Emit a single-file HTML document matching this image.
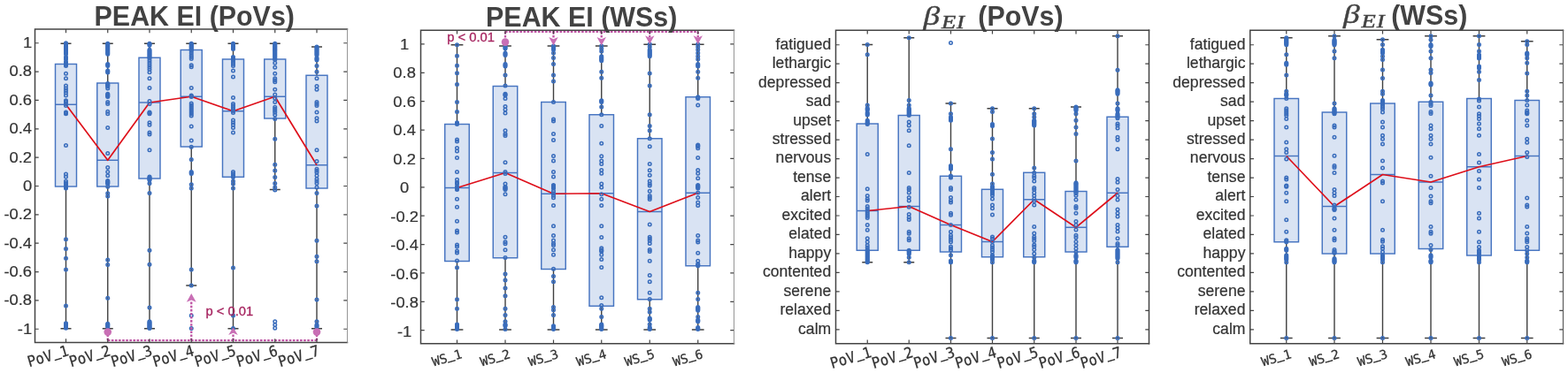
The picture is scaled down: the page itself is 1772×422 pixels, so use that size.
<!DOCTYPE html>
<html lang="en"><head><meta charset="utf-8"><title>PEAK EI and beta EI box plots</title>
<style>
html,body{margin:0;padding:0;background:#fff;}
body{width:1772px;height:422px;overflow:hidden;}
svg{display:block;}
.ax{fill:none;stroke:#444444;stroke-width:1.5;stroke-linecap:square;}
.tk{stroke:#444444;stroke-width:1.2;fill:none;}
.wh{stroke:#404040;stroke-width:1.4;fill:none;}
.bx{fill:#d9e3f3;stroke:#4674c1;stroke-width:1.45;}
.md{stroke:#4674c1;stroke-width:1.45;fill:none;}
.dt{fill:none;stroke:#3a6dbc;stroke-width:1.55;}
.dw{fill:#3a6dbc;fill-opacity:0.35;}
.rl{fill:none;stroke:#de0f1a;stroke-width:1.7;stroke-linejoin:round;}
.mg{fill:none;stroke:#bf55a5;stroke-width:2.3;stroke-dasharray:2.6 1.5;}
.mf{fill:#c96fb5;stroke:none;}
.yl{font-family:"Liberation Sans",Arial,Helvetica,sans-serif;fill:#333333;stroke:#333333;stroke-width:0.2;text-anchor:end;}
.xl{font-family:"DejaVu Sans Mono","Liberation Mono",monospace;fill:#333333;text-anchor:end;}
.xl{stroke:#333333;stroke-width:0.25;}.us{stroke-width:0.7;}
.tt{font-family:"Liberation Sans",Arial,Helvetica,sans-serif;font-weight:bold;font-size:32px;fill:#424242;}
.tb{font-family:"Liberation Serif","DejaVu Serif",serif;font-style:italic;fill:#424242;stroke:#424242;stroke-width:0.35;}
.pv{font-family:"Liberation Sans",Arial,Helvetica,sans-serif;font-size:14.2px;fill:#a6245f;stroke:#a6245f;stroke-width:0.3;}
</style></head><body>
<svg width="1772" height="422" viewBox="0 0 1772 422">
<rect width="1772" height="422" fill="#fff"/>
<g id="panel1">
<path class="wh" d="M74.5 49.2V72.5M74.5 211V371.7M68.5 49.2H80.5M68.5 371.7H80.5"/>
<path class="wh" d="M121.75 49.2V94M121.75 211V371.7M115.75 49.2H127.75M115.75 371.7H127.75"/>
<path class="wh" d="M169 49.2V65.25M169 202V371.7M163 49.2H175M163 371.7H175"/>
<path class="wh" d="M216.25 49.2V56.5M216.25 166V323M210.25 49.2H222.25M210.25 323H222.25"/>
<path class="wh" d="M263.5 49.2V67M263.5 200.25V371.7M257.5 49.2H269.5M257.5 371.7H269.5"/>
<path class="wh" d="M310.75 49.2V67M310.75 134V214.5M304.75 49.2H316.75M304.75 214.5H316.75"/>
<path class="wh" d="M358 53V85.25M358 213V371.7M352 53H364M352 371.7H364"/>
<rect class="bx" x="62.5" y="72.5" width="24" height="138.5"/>
<path class="md" d="M62.5 118.25H86.5"/>
<rect class="bx" x="109.75" y="94" width="24" height="117"/>
<path class="md" d="M109.75 181.25H133.75"/>
<rect class="bx" x="157" y="65.25" width="24" height="136.75"/>
<path class="md" d="M157 116H181"/>
<rect class="bx" x="204.25" y="56.5" width="24" height="109.5"/>
<path class="md" d="M204.25 109.25H228.25"/>
<rect class="bx" x="251.5" y="67" width="24" height="133.25"/>
<path class="md" d="M251.5 125.75H275.5"/>
<rect class="bx" x="298.75" y="67" width="24" height="67"/>
<path class="md" d="M298.75 109.25H322.75"/>
<rect class="bx" x="346" y="85.25" width="24" height="127.75"/>
<path class="md" d="M346 186.75H370"/>
<polyline class="rl" points="74.5,118.25 121.75,181.25 169,116 216.25,109.25 263.5,125.75 310.75,109.25 358,186.75"/>
<g class="dt"><circle cx="74.5" cy="72.5" r="1.75"/><circle cx="74.5" cy="73.5" r="1.75"/><circle cx="74.5" cy="74.5" r="1.75"/><circle cx="74.5" cy="83.25" r="1.75"/><circle cx="74.5" cy="88.75" r="1.75"/><circle cx="74.5" cy="97" r="1.75"/><circle cx="74.5" cy="100" r="1.75"/><circle cx="74.5" cy="102.5" r="1.75"/><circle cx="74.5" cy="105" r="1.75"/><circle cx="74.5" cy="108" r="1.75"/><circle cx="74.5" cy="113.75" r="1.75"/><circle cx="74.5" cy="114.62" r="1.75"/><circle cx="74.5" cy="115.5" r="1.75"/><circle cx="74.5" cy="117.5" r="1.75"/><circle cx="74.5" cy="119.5" r="1.75"/><circle cx="74.5" cy="127" r="1.75"/><circle cx="74.5" cy="127.88" r="1.75"/><circle cx="74.5" cy="128.75" r="1.75"/><circle cx="74.5" cy="164.5" r="1.75"/><circle cx="74.5" cy="197" r="1.75"/><circle cx="74.5" cy="200" r="1.75"/><circle cx="74.5" cy="205" r="1.75"/><circle cx="74.5" cy="207" r="1.75"/><circle cx="74.5" cy="207.88" r="1.75"/><circle cx="74.5" cy="208.75" r="1.75"/><circle cx="74.5" cy="210" r="1.75"/><circle cx="74.5" cy="211.25" r="1.75"/></g>
<g class="dt dw"><circle cx="74.5" cy="48.75" r="1.75"/><circle cx="74.5" cy="49.75" r="1.75"/><circle cx="74.5" cy="50.75" r="1.75"/><circle cx="74.5" cy="51.62" r="1.75"/><circle cx="74.5" cy="52.5" r="1.75"/><circle cx="74.5" cy="53.5" r="1.75"/><circle cx="74.5" cy="54.5" r="1.75"/><circle cx="74.5" cy="55.38" r="1.75"/><circle cx="74.5" cy="56.25" r="1.75"/><circle cx="74.5" cy="57.5" r="1.75"/><circle cx="74.5" cy="58.75" r="1.75"/><circle cx="74.5" cy="60" r="1.75"/><circle cx="74.5" cy="61.25" r="1.75"/><circle cx="74.5" cy="64.5" r="1.75"/><circle cx="74.5" cy="65.75" r="1.75"/><circle cx="74.5" cy="67" r="1.75"/><circle cx="74.5" cy="70" r="1.75"/><circle cx="74.5" cy="71.25" r="1.75"/><circle cx="74.5" cy="212.12" r="1.75"/><circle cx="74.5" cy="213" r="1.75"/><circle cx="74.5" cy="270.75" r="1.75"/><circle cx="74.5" cy="281.5" r="1.75"/><circle cx="74.5" cy="292.25" r="1.75"/><circle cx="74.5" cy="305" r="1.75"/><circle cx="74.5" cy="346" r="1.75"/><circle cx="74.5" cy="365.75" r="1.75"/><circle cx="74.5" cy="366.62" r="1.75"/><circle cx="74.5" cy="367.5" r="1.75"/><circle cx="74.5" cy="368.38" r="1.75"/><circle cx="74.5" cy="369.25" r="1.75"/><circle cx="74.5" cy="370.25" r="1.75"/><circle cx="74.5" cy="371.25" r="1.75"/></g>
<g class="dt"><circle cx="121.75" cy="94.5" r="1.75"/><circle cx="121.75" cy="95.38" r="1.75"/><circle cx="121.75" cy="96.25" r="1.75"/><circle cx="121.75" cy="97.12" r="1.75"/><circle cx="121.75" cy="98" r="1.75"/><circle cx="121.75" cy="100" r="1.75"/><circle cx="121.75" cy="106.25" r="1.75"/><circle cx="121.75" cy="107.12" r="1.75"/><circle cx="121.75" cy="108" r="1.75"/><circle cx="121.75" cy="108.75" r="1.75"/><circle cx="121.75" cy="109.5" r="1.75"/><circle cx="121.75" cy="115.5" r="1.75"/><circle cx="121.75" cy="117.5" r="1.75"/><circle cx="121.75" cy="126.25" r="1.75"/><circle cx="121.75" cy="128.75" r="1.75"/><circle cx="121.75" cy="144.5" r="1.75"/><circle cx="121.75" cy="173.5" r="1.75"/><circle cx="121.75" cy="189.5" r="1.75"/><circle cx="121.75" cy="194.5" r="1.75"/><circle cx="121.75" cy="198.75" r="1.75"/><circle cx="121.75" cy="204.5" r="1.75"/><circle cx="121.75" cy="205.38" r="1.75"/><circle cx="121.75" cy="206.25" r="1.75"/><circle cx="121.75" cy="207.12" r="1.75"/><circle cx="121.75" cy="208" r="1.75"/><circle cx="121.75" cy="211.25" r="1.75"/></g>
<g class="dt dw"><circle cx="121.75" cy="49.25" r="1.75"/><circle cx="121.75" cy="50.25" r="1.75"/><circle cx="121.75" cy="51.25" r="1.75"/><circle cx="121.75" cy="52.5" r="1.75"/><circle cx="121.75" cy="53.75" r="1.75"/><circle cx="121.75" cy="55" r="1.75"/><circle cx="121.75" cy="56.25" r="1.75"/><circle cx="121.75" cy="57.5" r="1.75"/><circle cx="121.75" cy="58.75" r="1.75"/><circle cx="121.75" cy="60" r="1.75"/><circle cx="121.75" cy="61.25" r="1.75"/><circle cx="121.75" cy="72.5" r="1.75"/><circle cx="121.75" cy="73.5" r="1.75"/><circle cx="121.75" cy="74.5" r="1.75"/><circle cx="121.75" cy="80" r="1.75"/><circle cx="121.75" cy="81" r="1.75"/><circle cx="121.75" cy="82" r="1.75"/><circle cx="121.75" cy="218.75" r="1.75"/><circle cx="121.75" cy="222" r="1.75"/><circle cx="121.75" cy="294" r="1.75"/><circle cx="121.75" cy="299.5" r="1.75"/><circle cx="121.75" cy="337.25" r="1.75"/><circle cx="121.75" cy="366.25" r="1.75"/><circle cx="121.75" cy="367.12" r="1.75"/><circle cx="121.75" cy="368" r="1.75"/><circle cx="121.75" cy="369" r="1.75"/><circle cx="121.75" cy="370" r="1.75"/></g>
<g class="dt"><circle cx="169" cy="65" r="1.75"/><circle cx="169" cy="66.25" r="1.75"/><circle cx="169" cy="68.75" r="1.75"/><circle cx="169" cy="71.25" r="1.75"/><circle cx="169" cy="73.75" r="1.75"/><circle cx="169" cy="76.25" r="1.75"/><circle cx="169" cy="78.75" r="1.75"/><circle cx="169" cy="81.75" r="1.75"/><circle cx="169" cy="88.75" r="1.75"/><circle cx="169" cy="99.5" r="1.75"/><circle cx="169" cy="114.5" r="1.75"/><circle cx="169" cy="117.5" r="1.75"/><circle cx="169" cy="127" r="1.75"/><circle cx="169" cy="127.88" r="1.75"/><circle cx="169" cy="128.75" r="1.75"/><circle cx="169" cy="138.75" r="1.75"/><circle cx="169" cy="141.25" r="1.75"/><circle cx="169" cy="150" r="1.75"/><circle cx="169" cy="152" r="1.75"/><circle cx="169" cy="169.75" r="1.75"/><circle cx="169" cy="200" r="1.75"/><circle cx="169" cy="201" r="1.75"/><circle cx="169" cy="202" r="1.75"/></g>
<g class="dt dw"><circle cx="169" cy="49.25" r="1.75"/><circle cx="169" cy="50.25" r="1.75"/><circle cx="169" cy="51.25" r="1.75"/><circle cx="169" cy="56.25" r="1.75"/><circle cx="169" cy="57.5" r="1.75"/><circle cx="169" cy="58.75" r="1.75"/><circle cx="169" cy="60" r="1.75"/><circle cx="169" cy="61.25" r="1.75"/><circle cx="169" cy="62.5" r="1.75"/><circle cx="169" cy="63.75" r="1.75"/><circle cx="169" cy="202.88" r="1.75"/><circle cx="169" cy="203.75" r="1.75"/><circle cx="169" cy="207.5" r="1.75"/><circle cx="169" cy="218.5" r="1.75"/><circle cx="169" cy="283.25" r="1.75"/><circle cx="169" cy="299.25" r="1.75"/><circle cx="169" cy="348" r="1.75"/><circle cx="169" cy="363.75" r="1.75"/><circle cx="169" cy="364.75" r="1.75"/><circle cx="169" cy="365.75" r="1.75"/><circle cx="169" cy="366.75" r="1.75"/><circle cx="169" cy="367.75" r="1.75"/><circle cx="169" cy="368.75" r="1.75"/><circle cx="169" cy="369.75" r="1.75"/><circle cx="169" cy="370.62" r="1.75"/><circle cx="169" cy="371.5" r="1.75"/></g>
<g class="dt"><circle cx="216.25" cy="56.5" r="1.75"/><circle cx="216.25" cy="57.5" r="1.75"/><circle cx="216.25" cy="60" r="1.75"/><circle cx="216.25" cy="62.5" r="1.75"/><circle cx="216.25" cy="64.5" r="1.75"/><circle cx="216.25" cy="66.5" r="1.75"/><circle cx="216.25" cy="73.75" r="1.75"/><circle cx="216.25" cy="75.75" r="1.75"/><circle cx="216.25" cy="99.5" r="1.75"/><circle cx="216.25" cy="108" r="1.75"/><circle cx="216.25" cy="108.75" r="1.75"/><circle cx="216.25" cy="109.5" r="1.75"/><circle cx="216.25" cy="117" r="1.75"/><circle cx="216.25" cy="119" r="1.75"/><circle cx="216.25" cy="121" r="1.75"/><circle cx="216.25" cy="123" r="1.75"/><circle cx="216.25" cy="125" r="1.75"/><circle cx="216.25" cy="127" r="1.75"/><circle cx="216.25" cy="129" r="1.75"/><circle cx="216.25" cy="131" r="1.75"/><circle cx="216.25" cy="143" r="1.75"/><circle cx="216.25" cy="159" r="1.75"/><circle cx="216.25" cy="166.25" r="1.75"/><circle cx="216.25" cy="357" r="1.75"/><circle cx="216.25" cy="371.5" r="1.75"/></g>
<g class="dt dw"><circle cx="216.25" cy="49.25" r="1.75"/><circle cx="216.25" cy="50.25" r="1.75"/><circle cx="216.25" cy="51.25" r="1.75"/><circle cx="216.25" cy="52.25" r="1.75"/><circle cx="216.25" cy="53.25" r="1.75"/><circle cx="216.25" cy="54.38" r="1.75"/><circle cx="216.25" cy="55.5" r="1.75"/><circle cx="216.25" cy="180.5" r="1.75"/><circle cx="216.25" cy="194.5" r="1.75"/><circle cx="216.25" cy="195.5" r="1.75"/><circle cx="216.25" cy="196.5" r="1.75"/><circle cx="216.25" cy="208.75" r="1.75"/><circle cx="216.25" cy="213" r="1.75"/><circle cx="216.25" cy="305" r="1.75"/><circle cx="216.25" cy="323" r="1.75"/></g>
<g class="dt"><circle cx="263.5" cy="66.5" r="1.75"/><circle cx="263.5" cy="67.5" r="1.75"/><circle cx="263.5" cy="68.5" r="1.75"/><circle cx="263.5" cy="70.5" r="1.75"/><circle cx="263.5" cy="72.5" r="1.75"/><circle cx="263.5" cy="74.5" r="1.75"/><circle cx="263.5" cy="80" r="1.75"/><circle cx="263.5" cy="87" r="1.75"/><circle cx="263.5" cy="110.5" r="1.75"/><circle cx="263.5" cy="117.5" r="1.75"/><circle cx="263.5" cy="119.5" r="1.75"/><circle cx="263.5" cy="121.5" r="1.75"/><circle cx="263.5" cy="123.5" r="1.75"/><circle cx="263.5" cy="125.5" r="1.75"/><circle cx="263.5" cy="127.5" r="1.75"/><circle cx="263.5" cy="136" r="1.75"/><circle cx="263.5" cy="138.75" r="1.75"/><circle cx="263.5" cy="141.25" r="1.75"/><circle cx="263.5" cy="144.5" r="1.75"/><circle cx="263.5" cy="150" r="1.75"/><circle cx="263.5" cy="194.5" r="1.75"/><circle cx="263.5" cy="196.5" r="1.75"/><circle cx="263.5" cy="198.5" r="1.75"/><circle cx="263.5" cy="199.5" r="1.75"/><circle cx="263.5" cy="200.5" r="1.75"/></g>
<g class="dt dw"><circle cx="263.5" cy="49.25" r="1.75"/><circle cx="263.5" cy="50.25" r="1.75"/><circle cx="263.5" cy="51.25" r="1.75"/><circle cx="263.5" cy="52.25" r="1.75"/><circle cx="263.5" cy="53.25" r="1.75"/><circle cx="263.5" cy="54.38" r="1.75"/><circle cx="263.5" cy="55.5" r="1.75"/><circle cx="263.5" cy="64.5" r="1.75"/><circle cx="263.5" cy="65.5" r="1.75"/><circle cx="263.5" cy="205" r="1.75"/><circle cx="263.5" cy="208" r="1.75"/><circle cx="263.5" cy="213" r="1.75"/><circle cx="263.5" cy="303" r="1.75"/><circle cx="263.5" cy="357" r="1.75"/><circle cx="263.5" cy="371.5" r="1.75"/></g>
<g class="dt"><circle cx="310.75" cy="67.5" r="1.75"/><circle cx="310.75" cy="71.25" r="1.75"/><circle cx="310.75" cy="76.25" r="1.75"/><circle cx="310.75" cy="83.25" r="1.75"/><circle cx="310.75" cy="88.75" r="1.75"/><circle cx="310.75" cy="90.75" r="1.75"/><circle cx="310.75" cy="92.75" r="1.75"/><circle cx="310.75" cy="101.25" r="1.75"/><circle cx="310.75" cy="107" r="1.75"/><circle cx="310.75" cy="111.25" r="1.75"/><circle cx="310.75" cy="115.5" r="1.75"/><circle cx="310.75" cy="121.25" r="1.75"/><circle cx="310.75" cy="123.25" r="1.75"/><circle cx="310.75" cy="125.25" r="1.75"/><circle cx="310.75" cy="127.25" r="1.75"/><circle cx="310.75" cy="130" r="1.75"/><circle cx="310.75" cy="134.5" r="1.75"/><circle cx="310.75" cy="363.75" r="1.75"/><circle cx="310.75" cy="367.5" r="1.75"/><circle cx="310.75" cy="371.25" r="1.75"/></g>
<g class="dt dw"><circle cx="310.75" cy="49.25" r="1.75"/><circle cx="310.75" cy="50.25" r="1.75"/><circle cx="310.75" cy="51.25" r="1.75"/><circle cx="310.75" cy="52.25" r="1.75"/><circle cx="310.75" cy="53.25" r="1.75"/><circle cx="310.75" cy="54.38" r="1.75"/><circle cx="310.75" cy="55.5" r="1.75"/><circle cx="310.75" cy="56.5" r="1.75"/><circle cx="310.75" cy="57.5" r="1.75"/><circle cx="310.75" cy="58.75" r="1.75"/><circle cx="310.75" cy="60" r="1.75"/><circle cx="310.75" cy="61.25" r="1.75"/><circle cx="310.75" cy="62.5" r="1.75"/><circle cx="310.75" cy="63.75" r="1.75"/><circle cx="310.75" cy="65" r="1.75"/><circle cx="310.75" cy="66.25" r="1.75"/><circle cx="310.75" cy="157.25" r="1.75"/><circle cx="310.75" cy="186.25" r="1.75"/><circle cx="310.75" cy="193" r="1.75"/><circle cx="310.75" cy="200.5" r="1.75"/><circle cx="310.75" cy="207.5" r="1.75"/><circle cx="310.75" cy="212" r="1.75"/><circle cx="310.75" cy="215" r="1.75"/></g>
<g class="dt"><circle cx="358" cy="88.75" r="1.75"/><circle cx="358" cy="97.5" r="1.75"/><circle cx="358" cy="101.25" r="1.75"/><circle cx="358" cy="115.5" r="1.75"/><circle cx="358" cy="117.5" r="1.75"/><circle cx="358" cy="119.5" r="1.75"/><circle cx="358" cy="127" r="1.75"/><circle cx="358" cy="133.75" r="1.75"/><circle cx="358" cy="137" r="1.75"/><circle cx="358" cy="169.75" r="1.75"/><circle cx="358" cy="182.5" r="1.75"/><circle cx="358" cy="191.25" r="1.75"/><circle cx="358" cy="193.25" r="1.75"/><circle cx="358" cy="195.25" r="1.75"/><circle cx="358" cy="198.75" r="1.75"/><circle cx="358" cy="202.5" r="1.75"/><circle cx="358" cy="205" r="1.75"/><circle cx="358" cy="207.5" r="1.75"/><circle cx="358" cy="212" r="1.75"/></g>
<g class="dt dw"><circle cx="358" cy="53" r="1.75"/><circle cx="358" cy="54" r="1.75"/><circle cx="358" cy="55" r="1.75"/><circle cx="358" cy="56.25" r="1.75"/><circle cx="358" cy="57.5" r="1.75"/><circle cx="358" cy="58.75" r="1.75"/><circle cx="358" cy="60" r="1.75"/><circle cx="358" cy="61.25" r="1.75"/><circle cx="358" cy="62.5" r="1.75"/><circle cx="358" cy="65.5" r="1.75"/><circle cx="358" cy="66.75" r="1.75"/><circle cx="358" cy="68" r="1.75"/><circle cx="358" cy="74.5" r="1.75"/><circle cx="358" cy="81.25" r="1.75"/><circle cx="358" cy="218.5" r="1.75"/><circle cx="358" cy="233" r="1.75"/><circle cx="358" cy="272.25" r="1.75"/><circle cx="358" cy="290.25" r="1.75"/><circle cx="358" cy="295.75" r="1.75"/><circle cx="358" cy="339" r="1.75"/><circle cx="358" cy="363.75" r="1.75"/><circle cx="358" cy="367.5" r="1.75"/><circle cx="358" cy="368.75" r="1.75"/><circle cx="358" cy="370" r="1.75"/></g>
<g id="sig1">
<path class="mg" d="M121.75 385.2H358"/>
<path class="mg" d="M121.75 385.2V377M358 385.2V377M216.25 385.2V340M263.5 385.2V378"/>
<circle class="mf" cx="121.75" cy="375.6" r="4.3"/><circle class="mf" cx="358" cy="375.6" r="4.3"/>
<path class="mf" d="M216.25 332l5.4 9.8l-5.4 -2.4l-5.4 2.4z"/>
<path class="mf" d="M263.5 370.4l5.3 8.6l-5.3 -2.2l-5.3 2.2z"/>
<text class="pv" transform="translate(232.5 357.3) scale(1.04 1)">p &lt; 0.01</text>
</g>
<path class="tk" d="M74.5 387.4v-4.2M74.5 33v4.2M121.75 387.4v-4.2M121.75 33v4.2M169 387.4v-4.2M169 33v4.2M216.25 387.4v-4.2M216.25 33v4.2M263.5 387.4v-4.2M263.5 33v4.2M310.75 387.4v-4.2M310.75 33v4.2M358 387.4v-4.2M358 33v4.2M39.5 48.75h4.2M392.5 48.75h-4.2M39.5 81.1h4.2M392.5 81.1h-4.2M39.5 113.45h4.2M392.5 113.45h-4.2M39.5 145.8h4.2M392.5 145.8h-4.2M39.5 178.15h4.2M392.5 178.15h-4.2M39.5 210.5h4.2M392.5 210.5h-4.2M39.5 242.85h4.2M392.5 242.85h-4.2M39.5 275.2h4.2M392.5 275.2h-4.2M39.5 307.55h4.2M392.5 307.55h-4.2M39.5 339.9h4.2M392.5 339.9h-4.2M39.5 372.25h4.2M392.5 372.25h-4.2"/>
<path class="ax" d="M392.5 33H39.5V387.4H392.5"/>
<path class="ax" style="stroke:#8a8a8a;stroke-width:0.9" d="M392.5 33V387.4"/>
<text class="yl" font-size="16.7" transform="translate(36.1 54.1) scale(1.1 1)">1</text>
<text class="yl" font-size="16.7" transform="translate(36.1 86.45) scale(1.1 1)">0.8</text>
<text class="yl" font-size="16.7" transform="translate(36.1 118.8) scale(1.1 1)">0.6</text>
<text class="yl" font-size="16.7" transform="translate(36.1 151.15) scale(1.1 1)">0.4</text>
<text class="yl" font-size="16.7" transform="translate(36.1 183.5) scale(1.1 1)">0.2</text>
<text class="yl" font-size="16.7" transform="translate(36.1 215.85) scale(1.1 1)">0</text>
<text class="yl" font-size="16.7" transform="translate(36.1 248.2) scale(1.1 1)">-0.2</text>
<text class="yl" font-size="16.7" transform="translate(36.1 280.55) scale(1.1 1)">-0.4</text>
<text class="yl" font-size="16.7" transform="translate(36.1 312.9) scale(1.1 1)">-0.6</text>
<text class="yl" font-size="16.7" transform="translate(36.1 345.25) scale(1.1 1)">-0.8</text>
<text class="yl" font-size="16.7" transform="translate(36.1 377.6) scale(1.1 1)">-1</text>
<text class="xl" font-size="17" transform="translate(78.6 401.8) rotate(-16.5) scale(0.93 1)">PoV<tspan dy="-2.4" dx="1.71" class="us" font-size="14.3">_</tspan><tspan dy="2.4" dx="-0.09">1</tspan></text>
<text class="xl" font-size="17" transform="translate(125.85 401.8) rotate(-16.5) scale(0.93 1)">PoV<tspan dy="-2.4" dx="1.71" class="us" font-size="14.3">_</tspan><tspan dy="2.4" dx="-0.09">2</tspan></text>
<text class="xl" font-size="17" transform="translate(173.1 401.8) rotate(-16.5) scale(0.93 1)">PoV<tspan dy="-2.4" dx="1.71" class="us" font-size="14.3">_</tspan><tspan dy="2.4" dx="-0.09">3</tspan></text>
<text class="xl" font-size="17" transform="translate(220.35 401.8) rotate(-16.5) scale(0.93 1)">PoV<tspan dy="-2.4" dx="1.71" class="us" font-size="14.3">_</tspan><tspan dy="2.4" dx="-0.09">4</tspan></text>
<text class="xl" font-size="17" transform="translate(267.6 401.8) rotate(-16.5) scale(0.93 1)">PoV<tspan dy="-2.4" dx="1.71" class="us" font-size="14.3">_</tspan><tspan dy="2.4" dx="-0.09">5</tspan></text>
<text class="xl" font-size="17" transform="translate(314.85 401.8) rotate(-16.5) scale(0.93 1)">PoV<tspan dy="-2.4" dx="1.71" class="us" font-size="14.3">_</tspan><tspan dy="2.4" dx="-0.09">6</tspan></text>
<text class="xl" font-size="17" transform="translate(362.1 401.8) rotate(-16.5) scale(0.93 1)">PoV<tspan dy="-2.4" dx="1.71" class="us" font-size="14.3">_</tspan><tspan dy="2.4" dx="-0.09">7</tspan></text>
</g>
<g id="panel2">
<path class="wh" d="M516.5 50.75V140.5M516.5 295.5V373M509.62 50.75H523.38M509.62 373H523.38"/>
<path class="wh" d="M571 52V97.5M571 291.75V373M564.12 52H577.88M564.12 373H577.88"/>
<path class="wh" d="M625.5 52V115.5M625.5 304.5V373M618.62 52H632.38M618.62 373H632.38"/>
<path class="wh" d="M679.75 52V129.75M679.75 346.25V373M672.88 52H686.62M672.88 373H686.62"/>
<path class="wh" d="M734.25 50.3V156.75M734.25 338.75V373M727.38 50.3H741.12M727.38 373H741.12"/>
<path class="wh" d="M788.75 50.3V109.75M788.75 300.75V373M781.88 50.3H795.62M781.88 373H795.62"/>
<rect class="bx" x="502.75" y="140.5" width="27.5" height="155"/>
<path class="md" d="M502.75 212.5H530.25"/>
<rect class="bx" x="557.25" y="97.5" width="27.5" height="194.25"/>
<path class="md" d="M557.25 195.5H584.75"/>
<rect class="bx" x="611.75" y="115.5" width="27.5" height="189"/>
<path class="md" d="M611.75 219.25H639.25"/>
<rect class="bx" x="666" y="129.75" width="27.5" height="216.5"/>
<path class="md" d="M666 218.75H693.5"/>
<rect class="bx" x="720.5" y="156.75" width="27.5" height="182"/>
<path class="md" d="M720.5 239.5H748"/>
<rect class="bx" x="775" y="109.75" width="27.5" height="191"/>
<path class="md" d="M775 218.25H802.5"/>
<polyline class="rl" points="516.5,212.5 571,195.5 625.5,219.25 679.75,218.75 734.25,239.5 788.75,218.25"/>
<g class="dt"><circle cx="516.5" cy="140.5" r="1.75"/><circle cx="516.5" cy="158" r="1.75"/><circle cx="516.5" cy="160" r="1.75"/><circle cx="516.5" cy="167.5" r="1.75"/><circle cx="516.5" cy="171" r="1.75"/><circle cx="516.5" cy="178.5" r="1.75"/><circle cx="516.5" cy="194.5" r="1.75"/><circle cx="516.5" cy="203.25" r="1.75"/><circle cx="516.5" cy="206.25" r="1.75"/><circle cx="516.5" cy="207.12" r="1.75"/><circle cx="516.5" cy="208" r="1.75"/><circle cx="516.5" cy="211.25" r="1.75"/><circle cx="516.5" cy="212.12" r="1.75"/><circle cx="516.5" cy="213" r="1.75"/><circle cx="516.5" cy="213.75" r="1.75"/><circle cx="516.5" cy="214.5" r="1.75"/><circle cx="516.5" cy="225.25" r="1.75"/><circle cx="516.5" cy="234.25" r="1.75"/><circle cx="516.5" cy="250.25" r="1.75"/><circle cx="516.5" cy="261" r="1.75"/><circle cx="516.5" cy="263" r="1.75"/><circle cx="516.5" cy="277" r="1.75"/><circle cx="516.5" cy="279" r="1.75"/><circle cx="516.5" cy="284" r="1.75"/><circle cx="516.5" cy="286" r="1.75"/><circle cx="516.5" cy="295" r="1.75"/></g>
<g class="dt dw"><circle cx="516.5" cy="50.75" r="1.75"/><circle cx="516.5" cy="63.25" r="1.75"/><circle cx="516.5" cy="74.25" r="1.75"/><circle cx="516.5" cy="82.75" r="1.75"/><circle cx="516.5" cy="95.5" r="1.75"/><circle cx="516.5" cy="115.5" r="1.75"/><circle cx="516.5" cy="126.5" r="1.75"/><circle cx="516.5" cy="138.75" r="1.75"/><circle cx="516.5" cy="139.62" r="1.75"/><circle cx="516.5" cy="302.75" r="1.75"/><circle cx="516.5" cy="338.75" r="1.75"/><circle cx="516.5" cy="349.25" r="1.75"/><circle cx="516.5" cy="367" r="1.75"/><circle cx="516.5" cy="367.88" r="1.75"/><circle cx="516.5" cy="368.75" r="1.75"/><circle cx="516.5" cy="369.62" r="1.75"/><circle cx="516.5" cy="370.5" r="1.75"/><circle cx="516.5" cy="371.5" r="1.75"/><circle cx="516.5" cy="372.5" r="1.75"/></g>
<g class="dt"><circle cx="571" cy="97" r="1.75"/><circle cx="571" cy="106.25" r="1.75"/><circle cx="571" cy="107.12" r="1.75"/><circle cx="571" cy="108" r="1.75"/><circle cx="571" cy="111.5" r="1.75"/><circle cx="571" cy="120.5" r="1.75"/><circle cx="571" cy="124" r="1.75"/><circle cx="571" cy="128" r="1.75"/><circle cx="571" cy="147.75" r="1.75"/><circle cx="571" cy="151.5" r="1.75"/><circle cx="571" cy="153.5" r="1.75"/><circle cx="571" cy="183.75" r="1.75"/><circle cx="571" cy="194.5" r="1.75"/><circle cx="571" cy="196.5" r="1.75"/><circle cx="571" cy="208" r="1.75"/><circle cx="571" cy="211.25" r="1.75"/><circle cx="571" cy="212.12" r="1.75"/><circle cx="571" cy="213" r="1.75"/><circle cx="571" cy="213.75" r="1.75"/><circle cx="571" cy="214.5" r="1.75"/><circle cx="571" cy="219.75" r="1.75"/><circle cx="571" cy="268.25" r="1.75"/><circle cx="571" cy="273.75" r="1.75"/><circle cx="571" cy="275.75" r="1.75"/><circle cx="571" cy="282.75" r="1.75"/><circle cx="571" cy="291.5" r="1.75"/></g>
<g class="dt dw"><circle cx="571" cy="53" r="1.75"/><circle cx="571" cy="54" r="1.75"/><circle cx="571" cy="55" r="1.75"/><circle cx="571" cy="60" r="1.75"/><circle cx="571" cy="61.25" r="1.75"/><circle cx="571" cy="62.5" r="1.75"/><circle cx="571" cy="72.5" r="1.75"/><circle cx="571" cy="73.75" r="1.75"/><circle cx="571" cy="75" r="1.75"/><circle cx="571" cy="85" r="1.75"/><circle cx="571" cy="310" r="1.75"/><circle cx="571" cy="317" r="1.75"/><circle cx="571" cy="326" r="1.75"/><circle cx="571" cy="334.75" r="1.75"/><circle cx="571" cy="349.25" r="1.75"/><circle cx="571" cy="356.5" r="1.75"/><circle cx="571" cy="363.75" r="1.75"/><circle cx="571" cy="367" r="1.75"/><circle cx="571" cy="367.88" r="1.75"/><circle cx="571" cy="368.75" r="1.75"/><circle cx="571" cy="372.5" r="1.75"/></g>
<g class="dt"><circle cx="625.5" cy="115.5" r="1.75"/><circle cx="625.5" cy="135" r="1.75"/><circle cx="625.5" cy="137" r="1.75"/><circle cx="625.5" cy="151.5" r="1.75"/><circle cx="625.5" cy="158.5" r="1.75"/><circle cx="625.5" cy="176.5" r="1.75"/><circle cx="625.5" cy="182" r="1.75"/><circle cx="625.5" cy="194.5" r="1.75"/><circle cx="625.5" cy="200" r="1.75"/><circle cx="625.5" cy="209.5" r="1.75"/><circle cx="625.5" cy="210.38" r="1.75"/><circle cx="625.5" cy="211.25" r="1.75"/><circle cx="625.5" cy="212.12" r="1.75"/><circle cx="625.5" cy="213" r="1.75"/><circle cx="625.5" cy="216.25" r="1.75"/><circle cx="625.5" cy="218.75" r="1.75"/><circle cx="625.5" cy="221.25" r="1.75"/><circle cx="625.5" cy="223.75" r="1.75"/><circle cx="625.5" cy="232.5" r="1.75"/><circle cx="625.5" cy="255.75" r="1.75"/><circle cx="625.5" cy="266.5" r="1.75"/><circle cx="625.5" cy="272" r="1.75"/><circle cx="625.5" cy="275.5" r="1.75"/><circle cx="625.5" cy="277.5" r="1.75"/><circle cx="625.5" cy="282.75" r="1.75"/><circle cx="625.5" cy="288.25" r="1.75"/><circle cx="625.5" cy="304.25" r="1.75"/></g>
<g class="dt dw"><circle cx="625.5" cy="52" r="1.75"/><circle cx="625.5" cy="52.88" r="1.75"/><circle cx="625.5" cy="53.75" r="1.75"/><circle cx="625.5" cy="55" r="1.75"/><circle cx="625.5" cy="56.25" r="1.75"/><circle cx="625.5" cy="60" r="1.75"/><circle cx="625.5" cy="65.5" r="1.75"/><circle cx="625.5" cy="72.5" r="1.75"/><circle cx="625.5" cy="85" r="1.75"/><circle cx="625.5" cy="92" r="1.75"/><circle cx="625.5" cy="312.5" r="1.75"/><circle cx="625.5" cy="318.75" r="1.75"/><circle cx="625.5" cy="347.5" r="1.75"/><circle cx="625.5" cy="350.75" r="1.75"/><circle cx="625.5" cy="356.5" r="1.75"/><circle cx="625.5" cy="368.75" r="1.75"/><circle cx="625.5" cy="369.62" r="1.75"/><circle cx="625.5" cy="370.5" r="1.75"/><circle cx="625.5" cy="371.5" r="1.75"/><circle cx="625.5" cy="372.5" r="1.75"/></g>
<g class="dt"><circle cx="679.75" cy="129.75" r="1.75"/><circle cx="679.75" cy="142.5" r="1.75"/><circle cx="679.75" cy="162.25" r="1.75"/><circle cx="679.75" cy="176.75" r="1.75"/><circle cx="679.75" cy="182" r="1.75"/><circle cx="679.75" cy="185.5" r="1.75"/><circle cx="679.75" cy="192.5" r="1.75"/><circle cx="679.75" cy="196.25" r="1.75"/><circle cx="679.75" cy="208" r="1.75"/><circle cx="679.75" cy="212" r="1.75"/><circle cx="679.75" cy="219.75" r="1.75"/><circle cx="679.75" cy="225.25" r="1.75"/><circle cx="679.75" cy="232.5" r="1.75"/><circle cx="679.75" cy="255.75" r="1.75"/><circle cx="679.75" cy="268.5" r="1.75"/><circle cx="679.75" cy="280.75" r="1.75"/><circle cx="679.75" cy="282.75" r="1.75"/><circle cx="679.75" cy="283.62" r="1.75"/><circle cx="679.75" cy="284.5" r="1.75"/><circle cx="679.75" cy="288.25" r="1.75"/><circle cx="679.75" cy="293.5" r="1.75"/><circle cx="679.75" cy="302.5" r="1.75"/><circle cx="679.75" cy="336.75" r="1.75"/><circle cx="679.75" cy="345.5" r="1.75"/></g>
<g class="dt dw"><circle cx="679.75" cy="52" r="1.75"/><circle cx="679.75" cy="55" r="1.75"/><circle cx="679.75" cy="58" r="1.75"/><circle cx="679.75" cy="63.75" r="1.75"/><circle cx="679.75" cy="65" r="1.75"/><circle cx="679.75" cy="66.25" r="1.75"/><circle cx="679.75" cy="67.5" r="1.75"/><circle cx="679.75" cy="68.75" r="1.75"/><circle cx="679.75" cy="81.25" r="1.75"/><circle cx="679.75" cy="88.25" r="1.75"/><circle cx="679.75" cy="113.75" r="1.75"/><circle cx="679.75" cy="114.62" r="1.75"/><circle cx="679.75" cy="115.5" r="1.75"/><circle cx="679.75" cy="121" r="1.75"/><circle cx="679.75" cy="349.25" r="1.75"/><circle cx="679.75" cy="358.5" r="1.75"/><circle cx="679.75" cy="367" r="1.75"/><circle cx="679.75" cy="367.88" r="1.75"/><circle cx="679.75" cy="368.75" r="1.75"/><circle cx="679.75" cy="369.62" r="1.75"/><circle cx="679.75" cy="370.5" r="1.75"/><circle cx="679.75" cy="371.5" r="1.75"/><circle cx="679.75" cy="372.5" r="1.75"/></g>
<g class="dt"><circle cx="734.25" cy="156.75" r="1.75"/><circle cx="734.25" cy="165.75" r="1.75"/><circle cx="734.25" cy="185.5" r="1.75"/><circle cx="734.25" cy="192.75" r="1.75"/><circle cx="734.25" cy="198.25" r="1.75"/><circle cx="734.25" cy="205" r="1.75"/><circle cx="734.25" cy="208" r="1.75"/><circle cx="734.25" cy="210" r="1.75"/><circle cx="734.25" cy="216.25" r="1.75"/><circle cx="734.25" cy="221.5" r="1.75"/><circle cx="734.25" cy="223.5" r="1.75"/><circle cx="734.25" cy="225.5" r="1.75"/><circle cx="734.25" cy="254" r="1.75"/><circle cx="734.25" cy="268.25" r="1.75"/><circle cx="734.25" cy="270.25" r="1.75"/><circle cx="734.25" cy="272.25" r="1.75"/><circle cx="734.25" cy="275.5" r="1.75"/><circle cx="734.25" cy="282.5" r="1.75"/><circle cx="734.25" cy="284.5" r="1.75"/><circle cx="734.25" cy="295.25" r="1.75"/><circle cx="734.25" cy="311.5" r="1.75"/><circle cx="734.25" cy="318.75" r="1.75"/><circle cx="734.25" cy="331.25" r="1.75"/><circle cx="734.25" cy="338.5" r="1.75"/></g>
<g class="dt dw"><circle cx="734.25" cy="50" r="1.75"/><circle cx="734.25" cy="53" r="1.75"/><circle cx="734.25" cy="56.25" r="1.75"/><circle cx="734.25" cy="57.5" r="1.75"/><circle cx="734.25" cy="58.75" r="1.75"/><circle cx="734.25" cy="60" r="1.75"/><circle cx="734.25" cy="61.25" r="1.75"/><circle cx="734.25" cy="62.5" r="1.75"/><circle cx="734.25" cy="63.75" r="1.75"/><circle cx="734.25" cy="83" r="1.75"/><circle cx="734.25" cy="97" r="1.75"/><circle cx="734.25" cy="129.75" r="1.75"/><circle cx="734.25" cy="142.5" r="1.75"/><circle cx="734.25" cy="147.75" r="1.75"/><circle cx="734.25" cy="349.25" r="1.75"/><circle cx="734.25" cy="353" r="1.75"/><circle cx="734.25" cy="360" r="1.75"/><circle cx="734.25" cy="361" r="1.75"/><circle cx="734.25" cy="362" r="1.75"/><circle cx="734.25" cy="367" r="1.75"/><circle cx="734.25" cy="370.5" r="1.75"/><circle cx="734.25" cy="371.5" r="1.75"/><circle cx="734.25" cy="372.5" r="1.75"/></g>
<g class="dt"><circle cx="788.75" cy="109.75" r="1.75"/><circle cx="788.75" cy="110.62" r="1.75"/><circle cx="788.75" cy="111.5" r="1.75"/><circle cx="788.75" cy="119" r="1.75"/><circle cx="788.75" cy="164" r="1.75"/><circle cx="788.75" cy="164.88" r="1.75"/><circle cx="788.75" cy="165.75" r="1.75"/><circle cx="788.75" cy="167.75" r="1.75"/><circle cx="788.75" cy="178.5" r="1.75"/><circle cx="788.75" cy="192.5" r="1.75"/><circle cx="788.75" cy="196.25" r="1.75"/><circle cx="788.75" cy="201.75" r="1.75"/><circle cx="788.75" cy="209.5" r="1.75"/><circle cx="788.75" cy="210.38" r="1.75"/><circle cx="788.75" cy="211.25" r="1.75"/><circle cx="788.75" cy="212.12" r="1.75"/><circle cx="788.75" cy="213" r="1.75"/><circle cx="788.75" cy="218" r="1.75"/><circle cx="788.75" cy="223.5" r="1.75"/><circle cx="788.75" cy="229" r="1.75"/><circle cx="788.75" cy="232.5" r="1.75"/><circle cx="788.75" cy="266.5" r="1.75"/><circle cx="788.75" cy="272" r="1.75"/><circle cx="788.75" cy="274" r="1.75"/><circle cx="788.75" cy="286.25" r="1.75"/><circle cx="788.75" cy="295.25" r="1.75"/><circle cx="788.75" cy="298.75" r="1.75"/><circle cx="788.75" cy="299.75" r="1.75"/><circle cx="788.75" cy="300.75" r="1.75"/></g>
<g class="dt dw"><circle cx="788.75" cy="50" r="1.75"/><circle cx="788.75" cy="53" r="1.75"/><circle cx="788.75" cy="56.25" r="1.75"/><circle cx="788.75" cy="60" r="1.75"/><circle cx="788.75" cy="63.75" r="1.75"/><circle cx="788.75" cy="67" r="1.75"/><circle cx="788.75" cy="72.5" r="1.75"/><circle cx="788.75" cy="73.75" r="1.75"/><circle cx="788.75" cy="75" r="1.75"/><circle cx="788.75" cy="81.25" r="1.75"/><circle cx="788.75" cy="88.25" r="1.75"/><circle cx="788.75" cy="331.25" r="1.75"/><circle cx="788.75" cy="338.5" r="1.75"/><circle cx="788.75" cy="347.5" r="1.75"/><circle cx="788.75" cy="348.38" r="1.75"/><circle cx="788.75" cy="349.25" r="1.75"/><circle cx="788.75" cy="350.25" r="1.75"/><circle cx="788.75" cy="351.25" r="1.75"/><circle cx="788.75" cy="358.5" r="1.75"/><circle cx="788.75" cy="362" r="1.75"/><circle cx="788.75" cy="362.88" r="1.75"/><circle cx="788.75" cy="363.75" r="1.75"/><circle cx="788.75" cy="370.5" r="1.75"/><circle cx="788.75" cy="371.5" r="1.75"/><circle cx="788.75" cy="372.5" r="1.75"/></g>
<g id="sig2">
<path class="mg" d="M571 35.8H788.75"/>
<path class="mg" d="M571 35.8V44M625.5 35.8V44M679.75 35.8V44M734.25 35.8V44M788.75 35.8V44"/>
<circle class="mf" cx="571" cy="47.6" r="4.3"/>
<path class="mf" d="M625.5 51.5l-5.2 -9.6l5.2 2.4l5.2 -2.4z"/>
<path class="mf" d="M679.75 51.5l-5.2 -9.6l5.2 2.4l5.2 -2.4z"/>
<path class="mf" d="M734.25 49.9l-5.2 -9.6l5.2 2.4l5.2 -2.4z"/>
<path class="mf" d="M788.75 49.9l-5.2 -9.6l5.2 2.4l5.2 -2.4z"/>
<text class="pv" transform="translate(505.3 47.3) scale(1.04 1)">p &lt; 0.01</text>
</g>
<path class="tk" d="M516.5 388.7v-4.2M516.5 34.3v4.2M571 388.7v-4.2M571 34.3v4.2M625.5 388.7v-4.2M625.5 34.3v4.2M679.75 388.7v-4.2M679.75 34.3v4.2M734.25 388.7v-4.2M734.25 34.3v4.2M788.75 388.7v-4.2M788.75 34.3v4.2M475.5 49.9h4.2M829.5 49.9h-4.2M475.5 82.28h4.2M829.5 82.28h-4.2M475.5 114.66h4.2M829.5 114.66h-4.2M475.5 147.04h4.2M829.5 147.04h-4.2M475.5 179.42h4.2M829.5 179.42h-4.2M475.5 211.8h4.2M829.5 211.8h-4.2M475.5 244.18h4.2M829.5 244.18h-4.2M475.5 276.56h4.2M829.5 276.56h-4.2M475.5 308.94h4.2M829.5 308.94h-4.2M475.5 341.32h4.2M829.5 341.32h-4.2M475.5 373.7h4.2M829.5 373.7h-4.2"/>
<path class="ax" d="M829.5 34.3H475.5V388.7H829.5"/>
<path class="ax" style="stroke:#8a8a8a;stroke-width:0.9" d="M829.5 34.3V388.7"/>
<text class="yl" style="text-anchor:middle" font-size="16.7" transform="translate(457.1 55.67) scale(1.1 1)">1</text>
<text class="yl" style="text-anchor:middle" font-size="16.7" transform="translate(457.1 88.18) scale(1.1 1)">0.8</text>
<text class="yl" style="text-anchor:middle" font-size="16.7" transform="translate(457.1 120.7) scale(1.1 1)">0.6</text>
<text class="yl" style="text-anchor:middle" font-size="16.7" transform="translate(457.1 153.22) scale(1.1 1)">0.4</text>
<text class="yl" style="text-anchor:middle" font-size="16.7" transform="translate(457.1 185.73) scale(1.1 1)">0.2</text>
<text class="yl" style="text-anchor:middle" font-size="16.7" transform="translate(457.1 218.25) scale(1.1 1)">0</text>
<text class="yl" style="text-anchor:middle" font-size="16.7" transform="translate(457.1 250.77) scale(1.1 1)">-0.2</text>
<text class="yl" style="text-anchor:middle" font-size="16.7" transform="translate(457.1 283.29) scale(1.1 1)">-0.4</text>
<text class="yl" style="text-anchor:middle" font-size="16.7" transform="translate(457.1 315.8) scale(1.1 1)">-0.6</text>
<text class="yl" style="text-anchor:middle" font-size="16.7" transform="translate(457.1 348.32) scale(1.1 1)">-0.8</text>
<text class="yl" style="text-anchor:middle" font-size="16.7" transform="translate(457.1 380.84) scale(1.1 1)">-1</text>
<text class="xl" font-size="14.3" transform="translate(522.9 404.7) rotate(-16.5) scale(1 1)">WS<tspan dy="-2.4" dx="0.01" class="us" font-size="13.6">_</tspan><tspan dy="2.4" dx="0.41">1</tspan></text>
<text class="xl" font-size="14.3" transform="translate(577.4 404.7) rotate(-16.5) scale(1 1)">WS<tspan dy="-2.4" dx="0.01" class="us" font-size="13.6">_</tspan><tspan dy="2.4" dx="0.41">2</tspan></text>
<text class="xl" font-size="14.3" transform="translate(631.9 404.7) rotate(-16.5) scale(1 1)">WS<tspan dy="-2.4" dx="0.01" class="us" font-size="13.6">_</tspan><tspan dy="2.4" dx="0.41">3</tspan></text>
<text class="xl" font-size="14.3" transform="translate(686.15 404.7) rotate(-16.5) scale(1 1)">WS<tspan dy="-2.4" dx="0.01" class="us" font-size="13.6">_</tspan><tspan dy="2.4" dx="0.41">4</tspan></text>
<text class="xl" font-size="14.3" transform="translate(740.65 404.7) rotate(-16.5) scale(1 1)">WS<tspan dy="-2.4" dx="0.01" class="us" font-size="13.6">_</tspan><tspan dy="2.4" dx="0.41">5</tspan></text>
<text class="xl" font-size="14.3" transform="translate(795.15 404.7) rotate(-16.5) scale(1 1)">WS<tspan dy="-2.4" dx="0.01" class="us" font-size="13.6">_</tspan><tspan dy="2.4" dx="0.41">6</tspan></text>
</g>
<g id="panel3">
<path class="wh" d="M980.25 50.5V140M980.25 283.25V296.75M974.25 50.5H986.25M974.25 296.75H986.25"/>
<path class="wh" d="M1027.25 42.75V130.5M1027.25 283.25V296.75M1021.25 42.75H1033.25M1021.25 296.75H1033.25"/>
<path class="wh" d="M1074.5 117V199.25M1074.5 285V382.5M1068.5 117H1080.5M1068.5 382.5H1080.5"/>
<path class="wh" d="M1121.5 122.75V214.25M1121.5 290.75V382.5M1115.5 122.75H1127.5M1115.5 382.5H1127.5"/>
<path class="wh" d="M1168.75 122.75V195.25M1168.75 290.75V382.5M1162.75 122.75H1174.75M1162.75 382.5H1174.75"/>
<path class="wh" d="M1216 121V216.5M1216 285V382.5M1210 121H1222M1210 382.5H1222"/>
<path class="wh" d="M1263 40.75V132.25M1263 279.25V382.5M1257 40.75H1269M1257 382.5H1269"/>
<rect class="bx" x="968.25" y="140" width="24" height="143.25"/>
<path class="md" d="M968.25 238.5H992.25"/>
<rect class="bx" x="1015.25" y="130.5" width="24" height="152.75"/>
<path class="md" d="M1015.25 233.5H1039.25"/>
<rect class="bx" x="1062.5" y="199.25" width="24" height="85.75"/>
<path class="md" d="M1062.5 254.5H1086.5"/>
<rect class="bx" x="1109.5" y="214.25" width="24" height="76.5"/>
<path class="md" d="M1109.5 273.5H1133.5"/>
<rect class="bx" x="1156.75" y="195.25" width="24" height="95.5"/>
<path class="md" d="M1156.75 225.75H1180.75"/>
<rect class="bx" x="1204" y="216.5" width="24" height="68.5"/>
<path class="md" d="M1204 257.25H1228"/>
<rect class="bx" x="1251" y="132.25" width="24" height="147"/>
<path class="md" d="M1251 218.25H1275"/>
<polyline class="rl" points="980.25,238.5 1027.25,233.5 1074.5,254.5 1121.5,273.5 1168.75,225.75 1216,257.25 1263,218.25"/>
<g class="dt"><circle cx="980.25" cy="139.62" r="1.75"/><circle cx="980.25" cy="140.5" r="1.75"/><circle cx="980.25" cy="174.5" r="1.75"/><circle cx="980.25" cy="213.75" r="1.75"/><circle cx="980.25" cy="221.5" r="1.75"/><circle cx="980.25" cy="225" r="1.75"/><circle cx="980.25" cy="227" r="1.75"/><circle cx="980.25" cy="233.5" r="1.75"/><circle cx="980.25" cy="236" r="1.75"/><circle cx="980.25" cy="238.5" r="1.75"/><circle cx="980.25" cy="240.5" r="1.75"/><circle cx="980.25" cy="242.5" r="1.75"/><circle cx="980.25" cy="244.5" r="1.75"/><circle cx="980.25" cy="246.5" r="1.75"/><circle cx="980.25" cy="254.5" r="1.75"/><circle cx="980.25" cy="260.25" r="1.75"/><circle cx="980.25" cy="269.75" r="1.75"/><circle cx="980.25" cy="273.75" r="1.75"/><circle cx="980.25" cy="277.5" r="1.75"/><circle cx="980.25" cy="280" r="1.75"/><circle cx="980.25" cy="282.5" r="1.75"/><circle cx="980.25" cy="283.75" r="1.75"/></g>
<g class="dt dw"><circle cx="980.25" cy="50.5" r="1.75"/><circle cx="980.25" cy="61.75" r="1.75"/><circle cx="980.25" cy="119" r="1.75"/><circle cx="980.25" cy="122.5" r="1.75"/><circle cx="980.25" cy="123.5" r="1.75"/><circle cx="980.25" cy="124.5" r="1.75"/><circle cx="980.25" cy="127.5" r="1.75"/><circle cx="980.25" cy="128.75" r="1.75"/><circle cx="980.25" cy="130" r="1.75"/><circle cx="980.25" cy="136.25" r="1.75"/><circle cx="980.25" cy="137.5" r="1.75"/><circle cx="980.25" cy="138.75" r="1.75"/><circle cx="980.25" cy="285" r="1.75"/><circle cx="980.25" cy="286.25" r="1.75"/><circle cx="980.25" cy="287.5" r="1.75"/><circle cx="980.25" cy="288.75" r="1.75"/><circle cx="980.25" cy="290" r="1.75"/><circle cx="980.25" cy="291.25" r="1.75"/><circle cx="980.25" cy="292.5" r="1.75"/><circle cx="980.25" cy="293.75" r="1.75"/><circle cx="980.25" cy="295" r="1.75"/><circle cx="980.25" cy="295.88" r="1.75"/><circle cx="980.25" cy="296.75" r="1.75"/></g>
<g class="dt"><circle cx="1027.25" cy="130.5" r="1.75"/><circle cx="1027.25" cy="138" r="1.75"/><circle cx="1027.25" cy="142" r="1.75"/><circle cx="1027.25" cy="147.75" r="1.75"/><circle cx="1027.25" cy="164.75" r="1.75"/><circle cx="1027.25" cy="195.5" r="1.75"/><circle cx="1027.25" cy="212.5" r="1.75"/><circle cx="1027.25" cy="214.5" r="1.75"/><circle cx="1027.25" cy="218" r="1.75"/><circle cx="1027.25" cy="223.5" r="1.75"/><circle cx="1027.25" cy="227" r="1.75"/><circle cx="1027.25" cy="234.25" r="1.75"/><circle cx="1027.25" cy="242.5" r="1.75"/><circle cx="1027.25" cy="246" r="1.75"/><circle cx="1027.25" cy="248.5" r="1.75"/><circle cx="1027.25" cy="262.25" r="1.75"/><circle cx="1027.25" cy="264.25" r="1.75"/><circle cx="1027.25" cy="269.75" r="1.75"/><circle cx="1027.25" cy="271.75" r="1.75"/><circle cx="1027.25" cy="283.25" r="1.75"/></g>
<g class="dt dw"><circle cx="1027.25" cy="42.75" r="1.75"/><circle cx="1027.25" cy="113.5" r="1.75"/><circle cx="1027.25" cy="119" r="1.75"/><circle cx="1027.25" cy="122.5" r="1.75"/><circle cx="1027.25" cy="123.5" r="1.75"/><circle cx="1027.25" cy="124.5" r="1.75"/><circle cx="1027.25" cy="125.5" r="1.75"/><circle cx="1027.25" cy="126.5" r="1.75"/><circle cx="1027.25" cy="127.5" r="1.75"/><circle cx="1027.25" cy="128.5" r="1.75"/><circle cx="1027.25" cy="129.5" r="1.75"/><circle cx="1027.25" cy="284.12" r="1.75"/><circle cx="1027.25" cy="285" r="1.75"/><circle cx="1027.25" cy="286.25" r="1.75"/><circle cx="1027.25" cy="287.5" r="1.75"/><circle cx="1027.25" cy="291.25" r="1.75"/><circle cx="1027.25" cy="296.75" r="1.75"/></g>
<g class="dt"><circle cx="1074.5" cy="48.5" r="1.75"/><circle cx="1074.5" cy="199" r="1.75"/><circle cx="1074.5" cy="200" r="1.75"/><circle cx="1074.5" cy="201" r="1.75"/><circle cx="1074.5" cy="212.5" r="1.75"/><circle cx="1074.5" cy="214.5" r="1.75"/><circle cx="1074.5" cy="223.5" r="1.75"/><circle cx="1074.5" cy="227" r="1.75"/><circle cx="1074.5" cy="229" r="1.75"/><circle cx="1074.5" cy="241.25" r="1.75"/><circle cx="1074.5" cy="243.25" r="1.75"/><circle cx="1074.5" cy="254.5" r="1.75"/><circle cx="1074.5" cy="262.25" r="1.75"/><circle cx="1074.5" cy="266.25" r="1.75"/><circle cx="1074.5" cy="268.75" r="1.75"/><circle cx="1074.5" cy="271.25" r="1.75"/><circle cx="1074.5" cy="273.75" r="1.75"/><circle cx="1074.5" cy="279" r="1.75"/><circle cx="1074.5" cy="281" r="1.75"/><circle cx="1074.5" cy="283" r="1.75"/></g>
<g class="dt dw"><circle cx="1074.5" cy="117" r="1.75"/><circle cx="1074.5" cy="128.75" r="1.75"/><circle cx="1074.5" cy="132.5" r="1.75"/><circle cx="1074.5" cy="133.5" r="1.75"/><circle cx="1074.5" cy="134.5" r="1.75"/><circle cx="1074.5" cy="135.38" r="1.75"/><circle cx="1074.5" cy="136.25" r="1.75"/><circle cx="1074.5" cy="168.75" r="1.75"/><circle cx="1074.5" cy="187.5" r="1.75"/><circle cx="1074.5" cy="188.5" r="1.75"/><circle cx="1074.5" cy="189.5" r="1.75"/><circle cx="1074.5" cy="190.38" r="1.75"/><circle cx="1074.5" cy="191.25" r="1.75"/><circle cx="1074.5" cy="288.75" r="1.75"/><circle cx="1074.5" cy="295" r="1.75"/><circle cx="1074.5" cy="295.88" r="1.75"/><circle cx="1074.5" cy="296.75" r="1.75"/><circle cx="1074.5" cy="382.5" r="1.75"/></g>
<g class="dt"><circle cx="1121.5" cy="214" r="1.75"/><circle cx="1121.5" cy="215" r="1.75"/><circle cx="1121.5" cy="217" r="1.75"/><circle cx="1121.5" cy="219" r="1.75"/><circle cx="1121.5" cy="221" r="1.75"/><circle cx="1121.5" cy="225" r="1.75"/><circle cx="1121.5" cy="232" r="1.75"/><circle cx="1121.5" cy="235.75" r="1.75"/><circle cx="1121.5" cy="243" r="1.75"/><circle cx="1121.5" cy="268" r="1.75"/><circle cx="1121.5" cy="270" r="1.75"/><circle cx="1121.5" cy="273.5" r="1.75"/><circle cx="1121.5" cy="277.5" r="1.75"/><circle cx="1121.5" cy="280" r="1.75"/><circle cx="1121.5" cy="282.5" r="1.75"/><circle cx="1121.5" cy="285" r="1.75"/><circle cx="1121.5" cy="288.75" r="1.75"/><circle cx="1121.5" cy="290" r="1.75"/><circle cx="1121.5" cy="291.25" r="1.75"/></g>
<g class="dt dw"><circle cx="1121.5" cy="122.75" r="1.75"/><circle cx="1121.5" cy="126.5" r="1.75"/><circle cx="1121.5" cy="140.5" r="1.75"/><circle cx="1121.5" cy="141.5" r="1.75"/><circle cx="1121.5" cy="142.5" r="1.75"/><circle cx="1121.5" cy="157" r="1.75"/><circle cx="1121.5" cy="172.5" r="1.75"/><circle cx="1121.5" cy="180" r="1.75"/><circle cx="1121.5" cy="197.25" r="1.75"/><circle cx="1121.5" cy="208" r="1.75"/><circle cx="1121.5" cy="211.25" r="1.75"/><circle cx="1121.5" cy="212.12" r="1.75"/><circle cx="1121.5" cy="213" r="1.75"/><circle cx="1121.5" cy="292.5" r="1.75"/><circle cx="1121.5" cy="293.75" r="1.75"/><circle cx="1121.5" cy="296.75" r="1.75"/><circle cx="1121.5" cy="382.5" r="1.75"/></g>
<g class="dt"><circle cx="1168.75" cy="195.5" r="1.75"/><circle cx="1168.75" cy="199" r="1.75"/><circle cx="1168.75" cy="201" r="1.75"/><circle cx="1168.75" cy="205" r="1.75"/><circle cx="1168.75" cy="212.5" r="1.75"/><circle cx="1168.75" cy="214.5" r="1.75"/><circle cx="1168.75" cy="218" r="1.75"/><circle cx="1168.75" cy="221.5" r="1.75"/><circle cx="1168.75" cy="225" r="1.75"/><circle cx="1168.75" cy="227.5" r="1.75"/><circle cx="1168.75" cy="232" r="1.75"/><circle cx="1168.75" cy="256.5" r="1.75"/><circle cx="1168.75" cy="264" r="1.75"/><circle cx="1168.75" cy="268" r="1.75"/><circle cx="1168.75" cy="270" r="1.75"/><circle cx="1168.75" cy="272.5" r="1.75"/><circle cx="1168.75" cy="277" r="1.75"/><circle cx="1168.75" cy="279" r="1.75"/><circle cx="1168.75" cy="282.5" r="1.75"/><circle cx="1168.75" cy="287" r="1.75"/><circle cx="1168.75" cy="291.25" r="1.75"/></g>
<g class="dt dw"><circle cx="1168.75" cy="122.75" r="1.75"/><circle cx="1168.75" cy="128.75" r="1.75"/><circle cx="1168.75" cy="132.5" r="1.75"/><circle cx="1168.75" cy="136.25" r="1.75"/><circle cx="1168.75" cy="137.12" r="1.75"/><circle cx="1168.75" cy="138" r="1.75"/><circle cx="1168.75" cy="139" r="1.75"/><circle cx="1168.75" cy="140" r="1.75"/><circle cx="1168.75" cy="141" r="1.75"/><circle cx="1168.75" cy="142" r="1.75"/><circle cx="1168.75" cy="190" r="1.75"/><circle cx="1168.75" cy="295" r="1.75"/><circle cx="1168.75" cy="295.88" r="1.75"/><circle cx="1168.75" cy="296.75" r="1.75"/><circle cx="1168.75" cy="382.5" r="1.75"/></g>
<g class="dt"><circle cx="1216" cy="216.25" r="1.75"/><circle cx="1216" cy="217.5" r="1.75"/><circle cx="1216" cy="218.75" r="1.75"/><circle cx="1216" cy="221.25" r="1.75"/><circle cx="1216" cy="226" r="1.75"/><circle cx="1216" cy="233.5" r="1.75"/><circle cx="1216" cy="235.5" r="1.75"/><circle cx="1216" cy="241.25" r="1.75"/><circle cx="1216" cy="250.5" r="1.75"/><circle cx="1216" cy="254.5" r="1.75"/><circle cx="1216" cy="260" r="1.75"/><circle cx="1216" cy="266.25" r="1.75"/><circle cx="1216" cy="268.75" r="1.75"/><circle cx="1216" cy="273.5" r="1.75"/><circle cx="1216" cy="277.5" r="1.75"/><circle cx="1216" cy="281.25" r="1.75"/><circle cx="1216" cy="285" r="1.75"/></g>
<g class="dt dw"><circle cx="1216" cy="121" r="1.75"/><circle cx="1216" cy="121.88" r="1.75"/><circle cx="1216" cy="122.75" r="1.75"/><circle cx="1216" cy="123.88" r="1.75"/><circle cx="1216" cy="125" r="1.75"/><circle cx="1216" cy="128.75" r="1.75"/><circle cx="1216" cy="136.25" r="1.75"/><circle cx="1216" cy="144" r="1.75"/><circle cx="1216" cy="151.5" r="1.75"/><circle cx="1216" cy="182" r="1.75"/><circle cx="1216" cy="206.75" r="1.75"/><circle cx="1216" cy="207.75" r="1.75"/><circle cx="1216" cy="208.75" r="1.75"/><circle cx="1216" cy="210" r="1.75"/><circle cx="1216" cy="211.25" r="1.75"/><circle cx="1216" cy="212.5" r="1.75"/><circle cx="1216" cy="213.75" r="1.75"/><circle cx="1216" cy="215" r="1.75"/><circle cx="1216" cy="288.75" r="1.75"/><circle cx="1216" cy="290" r="1.75"/><circle cx="1216" cy="291.25" r="1.75"/><circle cx="1216" cy="295" r="1.75"/><circle cx="1216" cy="295.88" r="1.75"/><circle cx="1216" cy="296.75" r="1.75"/><circle cx="1216" cy="382.5" r="1.75"/></g>
<g class="dt"><circle cx="1263" cy="132.5" r="1.75"/><circle cx="1263" cy="133.75" r="1.75"/><circle cx="1263" cy="140" r="1.75"/><circle cx="1263" cy="142" r="1.75"/><circle cx="1263" cy="145" r="1.75"/><circle cx="1263" cy="155.25" r="1.75"/><circle cx="1263" cy="158.25" r="1.75"/><circle cx="1263" cy="168.75" r="1.75"/><circle cx="1263" cy="202.5" r="1.75"/><circle cx="1263" cy="206.25" r="1.75"/><circle cx="1263" cy="214.5" r="1.75"/><circle cx="1263" cy="221.5" r="1.75"/><circle cx="1263" cy="226" r="1.75"/><circle cx="1263" cy="237" r="1.75"/><circle cx="1263" cy="241.25" r="1.75"/><circle cx="1263" cy="245" r="1.75"/><circle cx="1263" cy="254.5" r="1.75"/><circle cx="1263" cy="258" r="1.75"/><circle cx="1263" cy="262" r="1.75"/><circle cx="1263" cy="269.75" r="1.75"/><circle cx="1263" cy="275.5" r="1.75"/><circle cx="1263" cy="277.5" r="1.75"/></g>
<g class="dt dw"><circle cx="1263" cy="40.75" r="1.75"/><circle cx="1263" cy="79.25" r="1.75"/><circle cx="1263" cy="101.75" r="1.75"/><circle cx="1263" cy="102.75" r="1.75"/><circle cx="1263" cy="103.75" r="1.75"/><circle cx="1263" cy="105" r="1.75"/><circle cx="1263" cy="106.25" r="1.75"/><circle cx="1263" cy="117" r="1.75"/><circle cx="1263" cy="122.75" r="1.75"/><circle cx="1263" cy="123.88" r="1.75"/><circle cx="1263" cy="125" r="1.75"/><circle cx="1263" cy="128.75" r="1.75"/><circle cx="1263" cy="130" r="1.75"/><circle cx="1263" cy="131.25" r="1.75"/><circle cx="1263" cy="282.5" r="1.75"/><circle cx="1263" cy="283.75" r="1.75"/><circle cx="1263" cy="285" r="1.75"/><circle cx="1263" cy="286.25" r="1.75"/><circle cx="1263" cy="287.5" r="1.75"/><circle cx="1263" cy="288.75" r="1.75"/><circle cx="1263" cy="290" r="1.75"/><circle cx="1263" cy="291.25" r="1.75"/><circle cx="1263" cy="292.5" r="1.75"/><circle cx="1263" cy="296.75" r="1.75"/><circle cx="1263" cy="382.5" r="1.75"/></g>
<path class="tk" d="M980.25 388.75v-4.2M980.25 34.25v4.2M1027.25 388.75v-4.2M1027.25 34.25v4.2M1074.5 388.75v-4.2M1074.5 34.25v4.2M1121.5 388.75v-4.2M1121.5 34.25v4.2M1168.75 388.75v-4.2M1168.75 34.25v4.2M1216 388.75v-4.2M1216 34.25v4.2M1263 388.75v-4.2M1263 34.25v4.2M944.5 50.75h4.2M1298.5 50.75h-4.2M944.5 72.22h4.2M1298.5 72.22h-4.2M944.5 93.69h4.2M1298.5 93.69h-4.2M944.5 115.16h4.2M1298.5 115.16h-4.2M944.5 136.63h4.2M1298.5 136.63h-4.2M944.5 158.1h4.2M1298.5 158.1h-4.2M944.5 179.57h4.2M1298.5 179.57h-4.2M944.5 201.04h4.2M1298.5 201.04h-4.2M944.5 222.51h4.2M1298.5 222.51h-4.2M944.5 243.98h4.2M1298.5 243.98h-4.2M944.5 265.45h4.2M1298.5 265.45h-4.2M944.5 286.92h4.2M1298.5 286.92h-4.2M944.5 308.39h4.2M1298.5 308.39h-4.2M944.5 329.86h4.2M1298.5 329.86h-4.2M944.5 351.33h4.2M1298.5 351.33h-4.2M944.5 372.8h4.2M1298.5 372.8h-4.2"/>
<path class="ax" d="M1298.5 34.25H944.5V388.75H1298.5"/>
<path class="ax" d="M1298.5 34.25V388.75"/>
<text class="yl" font-size="17.6" transform="translate(939.2 55.65) scale(1 1)">fatigued</text>
<text class="yl" font-size="17.6" transform="translate(939.2 77.12) scale(1 1)">lethargic</text>
<text class="yl" font-size="17.6" transform="translate(939.2 98.59) scale(1 1)">depressed</text>
<text class="yl" font-size="17.6" transform="translate(939.2 120.06) scale(1 1)">sad</text>
<text class="yl" font-size="17.6" transform="translate(939.2 141.53) scale(1 1)">upset</text>
<text class="yl" font-size="17.6" transform="translate(939.2 163) scale(1 1)">stressed</text>
<text class="yl" font-size="17.6" transform="translate(939.2 184.47) scale(1 1)">nervous</text>
<text class="yl" font-size="17.6" transform="translate(939.2 205.94) scale(1 1)">tense</text>
<text class="yl" font-size="17.6" transform="translate(939.2 227.41) scale(1 1)">alert</text>
<text class="yl" font-size="17.6" transform="translate(939.2 248.88) scale(1 1)">excited</text>
<text class="yl" font-size="17.6" transform="translate(939.2 270.35) scale(1 1)">elated</text>
<text class="yl" font-size="17.6" transform="translate(939.2 291.82) scale(1 1)">happy</text>
<text class="yl" font-size="17.6" transform="translate(939.2 313.29) scale(1 1)">contented</text>
<text class="yl" font-size="17.6" transform="translate(939.2 334.76) scale(1 1)">serene</text>
<text class="yl" font-size="17.6" transform="translate(939.2 356.23) scale(1 1)">relaxed</text>
<text class="yl" font-size="17.6" transform="translate(939.2 377.7) scale(1 1)">calm</text>
<text class="xl" font-size="17" transform="translate(985.85 403.45) rotate(-16.5) scale(0.93 1)">PoV<tspan dy="-2.4" dx="1.71" class="us" font-size="14.3">_</tspan><tspan dy="2.4" dx="-0.09">1</tspan></text>
<text class="xl" font-size="17" transform="translate(1032.85 403.45) rotate(-16.5) scale(0.93 1)">PoV<tspan dy="-2.4" dx="1.71" class="us" font-size="14.3">_</tspan><tspan dy="2.4" dx="-0.09">2</tspan></text>
<text class="xl" font-size="17" transform="translate(1080.1 403.45) rotate(-16.5) scale(0.93 1)">PoV<tspan dy="-2.4" dx="1.71" class="us" font-size="14.3">_</tspan><tspan dy="2.4" dx="-0.09">3</tspan></text>
<text class="xl" font-size="17" transform="translate(1127.1 403.45) rotate(-16.5) scale(0.93 1)">PoV<tspan dy="-2.4" dx="1.71" class="us" font-size="14.3">_</tspan><tspan dy="2.4" dx="-0.09">4</tspan></text>
<text class="xl" font-size="17" transform="translate(1174.35 403.45) rotate(-16.5) scale(0.93 1)">PoV<tspan dy="-2.4" dx="1.71" class="us" font-size="14.3">_</tspan><tspan dy="2.4" dx="-0.09">5</tspan></text>
<text class="xl" font-size="17" transform="translate(1221.6 403.45) rotate(-16.5) scale(0.93 1)">PoV<tspan dy="-2.4" dx="1.71" class="us" font-size="14.3">_</tspan><tspan dy="2.4" dx="-0.09">6</tspan></text>
<text class="xl" font-size="17" transform="translate(1268.6 403.45) rotate(-16.5) scale(0.93 1)">PoV<tspan dy="-2.4" dx="1.71" class="us" font-size="14.3">_</tspan><tspan dy="2.4" dx="-0.09">7</tspan></text>
</g>
<g id="panel4">
<path class="wh" d="M1453.75 42.75V111.5M1453.75 273.75V382.5M1446.88 42.75H1460.62M1446.88 382.5H1460.62"/>
<path class="wh" d="M1508 40.75V127M1508 287V382.5M1501.12 40.75H1514.88M1501.12 382.5H1514.88"/>
<path class="wh" d="M1562.5 44.75V117M1562.5 287V382.5M1555.62 44.75H1569.38M1555.62 382.5H1569.38"/>
<path class="wh" d="M1617 40.75V115.25M1617 281.5V382.5M1610.12 40.75H1623.88M1610.12 382.5H1623.88"/>
<path class="wh" d="M1671.5 40.75V111.5M1671.5 289V382.5M1664.62 40.75H1678.38M1664.62 382.5H1678.38"/>
<path class="wh" d="M1725.75 46.75V113.5M1725.75 283.25V382.5M1718.88 46.75H1732.62M1718.88 382.5H1732.62"/>
<rect class="bx" x="1440" y="111.5" width="27.5" height="162.25"/>
<path class="md" d="M1440 176.5H1467.5"/>
<rect class="bx" x="1494.25" y="127" width="27.5" height="160"/>
<path class="md" d="M1494.25 233.5H1521.75"/>
<rect class="bx" x="1548.75" y="117" width="27.5" height="170"/>
<path class="md" d="M1548.75 197.5H1576.25"/>
<rect class="bx" x="1603.25" y="115.25" width="27.5" height="166.25"/>
<path class="md" d="M1603.25 206H1630.75"/>
<rect class="bx" x="1657.75" y="111.5" width="27.5" height="177.5"/>
<path class="md" d="M1657.75 188.75H1685.25"/>
<rect class="bx" x="1712" y="113.5" width="27.5" height="169.75"/>
<path class="md" d="M1712 176.5H1739.5"/>
<polyline class="rl" points="1453.75,176.5 1508,233.5 1562.5,197.5 1617,206 1671.5,188.75 1725.75,176.5"/>
<g class="dt"><circle cx="1453.75" cy="111.5" r="1.75"/><circle cx="1453.75" cy="122.75" r="1.75"/><circle cx="1453.75" cy="124.75" r="1.75"/><circle cx="1453.75" cy="126.75" r="1.75"/><circle cx="1453.75" cy="128.75" r="1.75"/><circle cx="1453.75" cy="130.75" r="1.75"/><circle cx="1453.75" cy="134.5" r="1.75"/><circle cx="1453.75" cy="144" r="1.75"/><circle cx="1453.75" cy="161" r="1.75"/><circle cx="1453.75" cy="168.75" r="1.75"/><circle cx="1453.75" cy="172.5" r="1.75"/><circle cx="1453.75" cy="180" r="1.75"/><circle cx="1453.75" cy="201" r="1.75"/><circle cx="1453.75" cy="203" r="1.75"/><circle cx="1453.75" cy="210" r="1.75"/><circle cx="1453.75" cy="210.62" r="1.75"/><circle cx="1453.75" cy="211.25" r="1.75"/><circle cx="1453.75" cy="218.25" r="1.75"/><circle cx="1453.75" cy="227.75" r="1.75"/><circle cx="1453.75" cy="248.75" r="1.75"/><circle cx="1453.75" cy="262.25" r="1.75"/><circle cx="1453.75" cy="271.75" r="1.75"/><circle cx="1453.75" cy="272.75" r="1.75"/><circle cx="1453.75" cy="273.75" r="1.75"/></g>
<g class="dt dw"><circle cx="1453.75" cy="42.75" r="1.75"/><circle cx="1453.75" cy="43.88" r="1.75"/><circle cx="1453.75" cy="45" r="1.75"/><circle cx="1453.75" cy="46" r="1.75"/><circle cx="1453.75" cy="47" r="1.75"/><circle cx="1453.75" cy="47.88" r="1.75"/><circle cx="1453.75" cy="48.75" r="1.75"/><circle cx="1453.75" cy="49.75" r="1.75"/><circle cx="1453.75" cy="50.75" r="1.75"/><circle cx="1453.75" cy="61.75" r="1.75"/><circle cx="1453.75" cy="71.25" r="1.75"/><circle cx="1453.75" cy="72.25" r="1.75"/><circle cx="1453.75" cy="73.25" r="1.75"/><circle cx="1453.75" cy="85" r="1.75"/><circle cx="1453.75" cy="103.25" r="1.75"/><circle cx="1453.75" cy="106.25" r="1.75"/><circle cx="1453.75" cy="107.12" r="1.75"/><circle cx="1453.75" cy="108" r="1.75"/><circle cx="1453.75" cy="281.25" r="1.75"/><circle cx="1453.75" cy="282.25" r="1.75"/><circle cx="1453.75" cy="283.25" r="1.75"/><circle cx="1453.75" cy="288.75" r="1.75"/><circle cx="1453.75" cy="290" r="1.75"/><circle cx="1453.75" cy="291.25" r="1.75"/><circle cx="1453.75" cy="292.5" r="1.75"/><circle cx="1453.75" cy="293.75" r="1.75"/><circle cx="1453.75" cy="296.75" r="1.75"/><circle cx="1453.75" cy="382.5" r="1.75"/></g>
<g class="dt"><circle cx="1508" cy="127" r="1.75"/><circle cx="1508" cy="127.88" r="1.75"/><circle cx="1508" cy="128.75" r="1.75"/><circle cx="1508" cy="142" r="1.75"/><circle cx="1508" cy="144" r="1.75"/><circle cx="1508" cy="155.25" r="1.75"/><circle cx="1508" cy="176.25" r="1.75"/><circle cx="1508" cy="187.5" r="1.75"/><circle cx="1508" cy="189.5" r="1.75"/><circle cx="1508" cy="195.5" r="1.75"/><circle cx="1508" cy="214.5" r="1.75"/><circle cx="1508" cy="218.25" r="1.75"/><circle cx="1508" cy="221.5" r="1.75"/><circle cx="1508" cy="232" r="1.75"/><circle cx="1508" cy="234" r="1.75"/><circle cx="1508" cy="236" r="1.75"/><circle cx="1508" cy="236.75" r="1.75"/><circle cx="1508" cy="237.5" r="1.75"/><circle cx="1508" cy="247" r="1.75"/><circle cx="1508" cy="260.25" r="1.75"/><circle cx="1508" cy="269.75" r="1.75"/><circle cx="1508" cy="271.75" r="1.75"/><circle cx="1508" cy="282.5" r="1.75"/><circle cx="1508" cy="284.5" r="1.75"/><circle cx="1508" cy="285.38" r="1.75"/><circle cx="1508" cy="286.25" r="1.75"/></g>
<g class="dt dw"><circle cx="1508" cy="40.75" r="1.75"/><circle cx="1508" cy="45" r="1.75"/><circle cx="1508" cy="46" r="1.75"/><circle cx="1508" cy="47" r="1.75"/><circle cx="1508" cy="47.88" r="1.75"/><circle cx="1508" cy="48.75" r="1.75"/><circle cx="1508" cy="49.75" r="1.75"/><circle cx="1508" cy="50.75" r="1.75"/><circle cx="1508" cy="58" r="1.75"/><circle cx="1508" cy="65.75" r="1.75"/><circle cx="1508" cy="117" r="1.75"/><circle cx="1508" cy="122.75" r="1.75"/><circle cx="1508" cy="123.88" r="1.75"/><circle cx="1508" cy="125" r="1.75"/><circle cx="1508" cy="126" r="1.75"/><circle cx="1508" cy="292.5" r="1.75"/><circle cx="1508" cy="293.75" r="1.75"/><circle cx="1508" cy="295" r="1.75"/><circle cx="1508" cy="295.88" r="1.75"/><circle cx="1508" cy="296.75" r="1.75"/><circle cx="1508" cy="382.5" r="1.75"/></g>
<g class="dt"><circle cx="1562.5" cy="116.5" r="1.75"/><circle cx="1562.5" cy="117.5" r="1.75"/><circle cx="1562.5" cy="119.5" r="1.75"/><circle cx="1562.5" cy="121.5" r="1.75"/><circle cx="1562.5" cy="123.5" r="1.75"/><circle cx="1562.5" cy="127" r="1.75"/><circle cx="1562.5" cy="138" r="1.75"/><circle cx="1562.5" cy="144" r="1.75"/><circle cx="1562.5" cy="153.25" r="1.75"/><circle cx="1562.5" cy="157.25" r="1.75"/><circle cx="1562.5" cy="163" r="1.75"/><circle cx="1562.5" cy="182" r="1.75"/><circle cx="1562.5" cy="190" r="1.75"/><circle cx="1562.5" cy="205" r="1.75"/><circle cx="1562.5" cy="207" r="1.75"/><circle cx="1562.5" cy="227.75" r="1.75"/><circle cx="1562.5" cy="260.25" r="1.75"/><circle cx="1562.5" cy="271.25" r="1.75"/><circle cx="1562.5" cy="273.25" r="1.75"/><circle cx="1562.5" cy="278.75" r="1.75"/><circle cx="1562.5" cy="281.25" r="1.75"/><circle cx="1562.5" cy="285" r="1.75"/></g>
<g class="dt dw"><circle cx="1562.5" cy="44.75" r="1.75"/><circle cx="1562.5" cy="50.5" r="1.75"/><circle cx="1562.5" cy="56.25" r="1.75"/><circle cx="1562.5" cy="57.12" r="1.75"/><circle cx="1562.5" cy="58" r="1.75"/><circle cx="1562.5" cy="59" r="1.75"/><circle cx="1562.5" cy="60" r="1.75"/><circle cx="1562.5" cy="63.75" r="1.75"/><circle cx="1562.5" cy="67.5" r="1.75"/><circle cx="1562.5" cy="79" r="1.75"/><circle cx="1562.5" cy="88.5" r="1.75"/><circle cx="1562.5" cy="103.25" r="1.75"/><circle cx="1562.5" cy="106.25" r="1.75"/><circle cx="1562.5" cy="113.5" r="1.75"/><circle cx="1562.5" cy="114.5" r="1.75"/><circle cx="1562.5" cy="115.5" r="1.75"/><circle cx="1562.5" cy="288.75" r="1.75"/><circle cx="1562.5" cy="290" r="1.75"/><circle cx="1562.5" cy="291.25" r="1.75"/><circle cx="1562.5" cy="292.5" r="1.75"/><circle cx="1562.5" cy="293.75" r="1.75"/><circle cx="1562.5" cy="296.75" r="1.75"/><circle cx="1562.5" cy="382.5" r="1.75"/></g>
<g class="dt"><circle cx="1617" cy="115.5" r="1.75"/><circle cx="1617" cy="117.5" r="1.75"/><circle cx="1617" cy="119.5" r="1.75"/><circle cx="1617" cy="126.5" r="1.75"/><circle cx="1617" cy="128.5" r="1.75"/><circle cx="1617" cy="142" r="1.75"/><circle cx="1617" cy="145.75" r="1.75"/><circle cx="1617" cy="153.25" r="1.75"/><circle cx="1617" cy="157.25" r="1.75"/><circle cx="1617" cy="163" r="1.75"/><circle cx="1617" cy="178.25" r="1.75"/><circle cx="1617" cy="199.25" r="1.75"/><circle cx="1617" cy="212.5" r="1.75"/><circle cx="1617" cy="222" r="1.75"/><circle cx="1617" cy="227.75" r="1.75"/><circle cx="1617" cy="229.75" r="1.75"/><circle cx="1617" cy="256.5" r="1.75"/><circle cx="1617" cy="262.25" r="1.75"/><circle cx="1617" cy="264.25" r="1.75"/><circle cx="1617" cy="277.5" r="1.75"/></g>
<g class="dt dw"><circle cx="1617" cy="40.75" r="1.75"/><circle cx="1617" cy="45" r="1.75"/><circle cx="1617" cy="50.5" r="1.75"/><circle cx="1617" cy="51.5" r="1.75"/><circle cx="1617" cy="52.5" r="1.75"/><circle cx="1617" cy="58" r="1.75"/><circle cx="1617" cy="65.75" r="1.75"/><circle cx="1617" cy="79" r="1.75"/><circle cx="1617" cy="82.5" r="1.75"/><circle cx="1617" cy="94" r="1.75"/><circle cx="1617" cy="95" r="1.75"/><circle cx="1617" cy="96" r="1.75"/><circle cx="1617" cy="108" r="1.75"/><circle cx="1617" cy="282.5" r="1.75"/><circle cx="1617" cy="288.75" r="1.75"/><circle cx="1617" cy="290" r="1.75"/><circle cx="1617" cy="291.25" r="1.75"/><circle cx="1617" cy="295" r="1.75"/><circle cx="1617" cy="295.88" r="1.75"/><circle cx="1617" cy="296.75" r="1.75"/><circle cx="1617" cy="382.5" r="1.75"/></g>
<g class="dt"><circle cx="1671.5" cy="112" r="1.75"/><circle cx="1671.5" cy="114" r="1.75"/><circle cx="1671.5" cy="121" r="1.75"/><circle cx="1671.5" cy="128.75" r="1.75"/><circle cx="1671.5" cy="131.25" r="1.75"/><circle cx="1671.5" cy="134.5" r="1.75"/><circle cx="1671.5" cy="140" r="1.75"/><circle cx="1671.5" cy="145.75" r="1.75"/><circle cx="1671.5" cy="153.25" r="1.75"/><circle cx="1671.5" cy="174.5" r="1.75"/><circle cx="1671.5" cy="184" r="1.75"/><circle cx="1671.5" cy="193.5" r="1.75"/><circle cx="1671.5" cy="203" r="1.75"/><circle cx="1671.5" cy="212.5" r="1.75"/><circle cx="1671.5" cy="241.25" r="1.75"/><circle cx="1671.5" cy="247" r="1.75"/><circle cx="1671.5" cy="262.25" r="1.75"/><circle cx="1671.5" cy="273.75" r="1.75"/><circle cx="1671.5" cy="279.5" r="1.75"/><circle cx="1671.5" cy="283.25" r="1.75"/><circle cx="1671.5" cy="284.12" r="1.75"/><circle cx="1671.5" cy="285" r="1.75"/><circle cx="1671.5" cy="287" r="1.75"/><circle cx="1671.5" cy="288" r="1.75"/><circle cx="1671.5" cy="289" r="1.75"/></g>
<g class="dt dw"><circle cx="1671.5" cy="40.75" r="1.75"/><circle cx="1671.5" cy="50.5" r="1.75"/><circle cx="1671.5" cy="58" r="1.75"/><circle cx="1671.5" cy="62" r="1.75"/><circle cx="1671.5" cy="63" r="1.75"/><circle cx="1671.5" cy="64" r="1.75"/><circle cx="1671.5" cy="65" r="1.75"/><circle cx="1671.5" cy="66" r="1.75"/><circle cx="1671.5" cy="75" r="1.75"/><circle cx="1671.5" cy="76" r="1.75"/><circle cx="1671.5" cy="77" r="1.75"/><circle cx="1671.5" cy="81.25" r="1.75"/><circle cx="1671.5" cy="90.5" r="1.75"/><circle cx="1671.5" cy="290.12" r="1.75"/><circle cx="1671.5" cy="291.25" r="1.75"/><circle cx="1671.5" cy="292.5" r="1.75"/><circle cx="1671.5" cy="293.75" r="1.75"/><circle cx="1671.5" cy="296.75" r="1.75"/><circle cx="1671.5" cy="382.5" r="1.75"/></g>
<g class="dt"><circle cx="1725.75" cy="113.5" r="1.75"/><circle cx="1725.75" cy="119" r="1.75"/><circle cx="1725.75" cy="125" r="1.75"/><circle cx="1725.75" cy="127" r="1.75"/><circle cx="1725.75" cy="127.88" r="1.75"/><circle cx="1725.75" cy="128.75" r="1.75"/><circle cx="1725.75" cy="136.25" r="1.75"/><circle cx="1725.75" cy="142" r="1.75"/><circle cx="1725.75" cy="157.25" r="1.75"/><circle cx="1725.75" cy="161.25" r="1.75"/><circle cx="1725.75" cy="172.5" r="1.75"/><circle cx="1725.75" cy="177.5" r="1.75"/><circle cx="1725.75" cy="224" r="1.75"/><circle cx="1725.75" cy="232" r="1.75"/><circle cx="1725.75" cy="234" r="1.75"/><circle cx="1725.75" cy="256.5" r="1.75"/><circle cx="1725.75" cy="264" r="1.75"/><circle cx="1725.75" cy="269.75" r="1.75"/><circle cx="1725.75" cy="271.75" r="1.75"/><circle cx="1725.75" cy="273.75" r="1.75"/><circle cx="1725.75" cy="279.5" r="1.75"/><circle cx="1725.75" cy="283.25" r="1.75"/></g>
<g class="dt dw"><circle cx="1725.75" cy="46.75" r="1.75"/><circle cx="1725.75" cy="50.5" r="1.75"/><circle cx="1725.75" cy="60" r="1.75"/><circle cx="1725.75" cy="61" r="1.75"/><circle cx="1725.75" cy="62" r="1.75"/><circle cx="1725.75" cy="65.75" r="1.75"/><circle cx="1725.75" cy="71.25" r="1.75"/><circle cx="1725.75" cy="83" r="1.75"/><circle cx="1725.75" cy="103.25" r="1.75"/><circle cx="1725.75" cy="108" r="1.75"/><circle cx="1725.75" cy="287" r="1.75"/><circle cx="1725.75" cy="291.25" r="1.75"/><circle cx="1725.75" cy="295" r="1.75"/><circle cx="1725.75" cy="295.88" r="1.75"/><circle cx="1725.75" cy="296.75" r="1.75"/><circle cx="1725.75" cy="382.5" r="1.75"/></g>
<path class="tk" d="M1453.75 388.75v-4.2M1453.75 34.25v4.2M1508 388.75v-4.2M1508 34.25v4.2M1562.5 388.75v-4.2M1562.5 34.25v4.2M1617 388.75v-4.2M1617 34.25v4.2M1671.5 388.75v-4.2M1671.5 34.25v4.2M1725.75 388.75v-4.2M1725.75 34.25v4.2M1412.75 50.75h4.2M1766.5 50.75h-4.2M1412.75 72.22h4.2M1766.5 72.22h-4.2M1412.75 93.69h4.2M1766.5 93.69h-4.2M1412.75 115.16h4.2M1766.5 115.16h-4.2M1412.75 136.63h4.2M1766.5 136.63h-4.2M1412.75 158.1h4.2M1766.5 158.1h-4.2M1412.75 179.57h4.2M1766.5 179.57h-4.2M1412.75 201.04h4.2M1766.5 201.04h-4.2M1412.75 222.51h4.2M1766.5 222.51h-4.2M1412.75 243.98h4.2M1766.5 243.98h-4.2M1412.75 265.45h4.2M1766.5 265.45h-4.2M1412.75 286.92h4.2M1766.5 286.92h-4.2M1412.75 308.39h4.2M1766.5 308.39h-4.2M1412.75 329.86h4.2M1766.5 329.86h-4.2M1412.75 351.33h4.2M1766.5 351.33h-4.2M1412.75 372.8h4.2M1766.5 372.8h-4.2"/>
<path class="ax" d="M1766.5 34.25H1412.75V388.75H1766.5"/>
<path class="ax" style="stroke:#5c5c5c;stroke-width:1.2" d="M1766.5 34.25V388.75"/>
<text class="yl" font-size="17.6" transform="translate(1407.45 55.65) scale(1 1)">fatigued</text>
<text class="yl" font-size="17.6" transform="translate(1407.45 77.12) scale(1 1)">lethargic</text>
<text class="yl" font-size="17.6" transform="translate(1407.45 98.59) scale(1 1)">depressed</text>
<text class="yl" font-size="17.6" transform="translate(1407.45 120.06) scale(1 1)">sad</text>
<text class="yl" font-size="17.6" transform="translate(1407.45 141.53) scale(1 1)">upset</text>
<text class="yl" font-size="17.6" transform="translate(1407.45 163) scale(1 1)">stressed</text>
<text class="yl" font-size="17.6" transform="translate(1407.45 184.47) scale(1 1)">nervous</text>
<text class="yl" font-size="17.6" transform="translate(1407.45 205.94) scale(1 1)">tense</text>
<text class="yl" font-size="17.6" transform="translate(1407.45 227.41) scale(1 1)">alert</text>
<text class="yl" font-size="17.6" transform="translate(1407.45 248.88) scale(1 1)">excited</text>
<text class="yl" font-size="17.6" transform="translate(1407.45 270.35) scale(1 1)">elated</text>
<text class="yl" font-size="17.6" transform="translate(1407.45 291.82) scale(1 1)">happy</text>
<text class="yl" font-size="17.6" transform="translate(1407.45 313.29) scale(1 1)">contented</text>
<text class="yl" font-size="17.6" transform="translate(1407.45 334.76) scale(1 1)">serene</text>
<text class="yl" font-size="17.6" transform="translate(1407.45 356.23) scale(1 1)">relaxed</text>
<text class="yl" font-size="17.6" transform="translate(1407.45 377.7) scale(1 1)">calm</text>
<text class="xl" font-size="14.3" transform="translate(1460.15 404.75) rotate(-16.5) scale(1 1)">WS<tspan dy="-2.4" dx="0.01" class="us" font-size="13.6">_</tspan><tspan dy="2.4" dx="0.41">1</tspan></text>
<text class="xl" font-size="14.3" transform="translate(1514.4 404.75) rotate(-16.5) scale(1 1)">WS<tspan dy="-2.4" dx="0.01" class="us" font-size="13.6">_</tspan><tspan dy="2.4" dx="0.41">2</tspan></text>
<text class="xl" font-size="14.3" transform="translate(1568.9 404.75) rotate(-16.5) scale(1 1)">WS<tspan dy="-2.4" dx="0.01" class="us" font-size="13.6">_</tspan><tspan dy="2.4" dx="0.41">3</tspan></text>
<text class="xl" font-size="14.3" transform="translate(1623.4 404.75) rotate(-16.5) scale(1 1)">WS<tspan dy="-2.4" dx="0.01" class="us" font-size="13.6">_</tspan><tspan dy="2.4" dx="0.41">4</tspan></text>
<text class="xl" font-size="14.3" transform="translate(1677.9 404.75) rotate(-16.5) scale(1 1)">WS<tspan dy="-2.4" dx="0.01" class="us" font-size="13.6">_</tspan><tspan dy="2.4" dx="0.41">5</tspan></text>
<text class="xl" font-size="14.3" transform="translate(1732.15 404.75) rotate(-16.5) scale(1 1)">WS<tspan dy="-2.4" dx="0.01" class="us" font-size="13.6">_</tspan><tspan dy="2.4" dx="0.41">6</tspan></text>
</g>
<text class="tt" transform="translate(106.6 28.5) scale(0.95 1)">PEAK EI (PoVs)</text>
<text class="tt" transform="translate(549.1 29.9) scale(0.95 1)">PEAK EI (WSs)</text>
<text class="tb" font-size="28.8" transform="translate(1043.5 28.35) scale(1.3 1)">β</text>
<text class="tb" font-size="21.6" transform="translate(1063.9 32.3) scale(1.23 1)" letter-spacing="0.8" style="stroke-width:0.5">EI</text>
<text class="tt" transform="translate(1105.3 29.2) scale(0.95 1)">(PoVs)</text>
<text class="tb" font-size="28.8" transform="translate(1518.1 26.15) scale(1.3 1)">β</text>
<text class="tb" font-size="21.6" transform="translate(1538.5 30.7) scale(1.23 1)" letter-spacing="0.8" style="stroke-width:0.5">EI</text>
<text class="tt" transform="translate(1572.2 28.3) scale(0.95 1)">(WSs)</text>
</svg>
</body></html>
